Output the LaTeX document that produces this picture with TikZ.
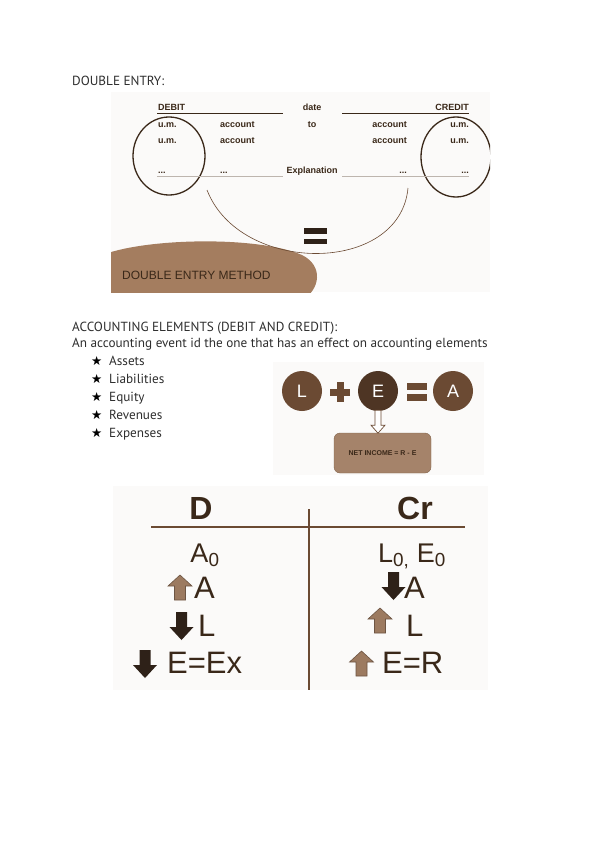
\documentclass[tikz,border=0pt]{standalone}
\usepackage{fontspec}
\setmainfont{PT Sans}
\newfontfamily\arialfont{Liberation Sans}
\newfontfamily\symfont{DejaVu Sans}
\usetikzlibrary{calc, positioning}

\definecolor{bodygray}{HTML}{2E2E2E}
\definecolor{imgbg}{HTML}{FBFAF9}
\definecolor{darkbrown}{HTML}{3A2819}
\definecolor{midbrown}{HTML}{6B4A33}
\definecolor{deepbrown}{HTML}{4E3524}
\definecolor{tanbrown}{HTML}{A47D5F}
\definecolor{boxbrown}{HTML}{A5836A}
\definecolor{arrtan}{HTML}{9C7A60}
\definecolor{arrdark}{HTML}{2E2118}
\definecolor{rulegray}{HTML}{BDB5AE}

\tikzset{
  uparr/.pic={\filldraw[fill=arrtan, draw=arrtan!70!black, line width=.6pt]
    (0,0) -- (12,11) -- (5.5,11) -- (5.5,25) -- (-5.5,25) -- (-5.5,11) -- (-12,11) -- cycle;},
  downarr/.pic={\fill[arrdark]
    (-5.5,0) -- (5.5,0) -- (5.5,15) -- (12,15) -- (0,28) -- (-12,15) -- (-5.5,15) -- cycle;}
}

\begin{document}
\begin{tikzpicture}[x=1pt, y=-1pt,
  txt/.style={inner sep=0, anchor=base west, text=bodygray, font=\fontsize{13.2}{15}\selectfont},
  sm/.style={inner sep=0, anchor=base, text=darkbrown, font=\arialfont\bfseries\fontsize{9}{10}\selectfont},
  ball/.style={circle, fill=midbrown, minimum size=40pt, inner sep=0, text=white, font=\arialfont\fontsize{18}{18}\selectfont},
  big/.style={inner sep=0, anchor=base west, text=darkbrown, font=\arialfont\fontsize{31}{31}\selectfont},
  mid/.style={inner sep=0, anchor=base, text=darkbrown, font=\arialfont\fontsize{27}{27}\selectfont},
  head/.style={inner sep=0, anchor=base, text=darkbrown, font=\arialfont\bfseries\fontsize{32}{32}\selectfont}]
\fill[white] (0,0) rectangle (600,848);
\useasboundingbox (0,0) rectangle (600,848);

% double entry
\node[txt] (t1) at (72,86) {DOUBLE ENTRY:};
\fill[imgbg] (111,92) rectangle (490,292);
\begin{scope}
\clip (111,92) rectangle (490,292);
\fill[tanbrown] (105,254) .. controls (150,238) and (258,236) .. (302,255)
  .. controls (324,266) and (320,290) .. (302,300) -- (105,300) -- cycle;
\draw[darkbrown, line width=1.3pt] (169,156) ellipse [x radius=36, y radius=39];
\draw[darkbrown, line width=1.3pt] (456,157) ellipse [x radius=35, y radius=40];
\end{scope}
\draw[darkbrown, line width=.8pt] (157,113) -- (283,113);
\draw[darkbrown, line width=.8pt] (342,113) -- (469,113);
\draw[rulegray, line width=.6pt] (157,176) -- (283,176);
\draw[rulegray, line width=.6pt] (342,176) -- (469,176);
\node[sm, anchor=base west] (deb) at (158,111) {DEBIT};
\node[sm] (date) at (312,111) {date};
\node[sm, anchor=base east] (cred) at (469,111) {CREDIT};
\node[sm, anchor=base west] (um1) at (158,128) {u.m.};
\node[sm, anchor=base west] (ac1) at (220,128) {account};
\node[sm] (to) at (312,128) {to};
\node[sm, anchor=base east] (ac2) at (407,128) {account};
\node[sm, anchor=base east] (um2) at (469,128) {u.m.};
\node[sm, anchor=base west] (um3) at (158,143) {u.m.};
\node[sm, anchor=base west] (ac3) at (220,143) {account};
\node[sm, anchor=base east] (ac4) at (407,143) {account};
\node[sm, anchor=base east] (um4) at (469,143) {u.m.};
\node[sm, anchor=base west] (d1) at (158,173) {...};
\node[sm, anchor=base west] (d2) at (220,173) {...};
\node[sm] (expl) at (312,173) {Explanation};
\node[sm, anchor=base east] (d3) at (407,173) {...};
\node[sm, anchor=base east] (d4) at (469,173) {...};
\draw[midbrown, line width=.6pt] (207,190) .. controls (240,275) and (400,275) .. (408,188);
\fill[arrdark] (304,228) rectangle (327,233.5);
\fill[arrdark] (304,238.5) rectangle (327,244);
\node[inner sep=0, anchor=base west, text=darkbrown, font=\arialfont\fontsize{12}{12}\selectfont] (dem) at (122,279) {DOUBLE ENTRY METHOD};

% accounting elements
\node[txt] (t2) at (72,331) {ACCOUNTING ELEMENTS (DEBIT AND CREDIT):};
\node[txt] (t3) at (72,347) {An accounting event id the one that has an effect on accounting elements};
\foreach \el [count=\i] in {Assets, Liabilities, Equity, Revenues, Expenses}{
  \node[txt, font=\symfont\fontsize{12.5}{12}\selectfont, text=black] (s\i) at (91,{365+18*(\i-1)}) {★};
  \node[txt] (e\i) at (109,{365+18*(\i-1)}) {\el};
}
\fill[imgbg] (273,362) rectangle (484,475);
\node[ball] (L) at (302,391) {L};
\node[ball, fill=deepbrown] (E) at (378,391) {E};
\node[ball] (A) at (453,391) {A};
\fill[midbrown] (330,388.5) rectangle (350,395.5);
\fill[midbrown] (336.5,382) rectangle (343.5,402);
\fill[midbrown] (407,383) rectangle (427,390);
\fill[midbrown] (407,394) rectangle (427,401);
\node[draw=tanbrown!80!black, fill=boxbrown, rounded corners=6pt, minimum width=97pt, minimum height=40pt,
  inner sep=0, text=darkbrown, font=\arialfont\bfseries\fontsize{7}{7}\selectfont] (ni) at (382.5,453) {NET INCOME = R - E};
\filldraw[fill=white, draw=midbrown, line width=.7pt] ($(E.south)+(-3,-1)$) -- ($(E.south)+(3,-1)$) -- ($(E.south)+(3,14)$)
  -- ($(E.south)+(7,14)$) -- ($(E.south)+(0,22)$) -- ($(E.south)+(-7,14)$) -- ($(E.south)+(-3,14)$) -- cycle;

% T account
\fill[imgbg] (113,486) rectangle (488,690);
\draw[midbrown, line width=2pt] (151,527) -- (465,527);
\draw[midbrown, line width=1.6pt] (309,509) -- (309,690);
\node[head] (D) at (201,519) {D};
\node[head] (Cr) at (415,519) {Cr};
\node[mid] (A0) at (205,562) {A\textsubscript{0}};
\node[mid] (LE0) at (412,562) {L\textsubscript{0,} E\textsubscript{0}};
\pic at (180,575) {uparr};
\node[big] (r2l) at (194,598) {A};
\pic at (393.5,572) {downarr};
\node[big] (r2r) at (404,598) {A};
\pic at (181.5,612) {downarr};
\node[big] (r3l) at (198,636) {L};
\pic at (380,608) {uparr};
\node[big] (r3r) at (406,636) {L};
\pic at (145,650) {downarr};
\node[big] (r4l) at (167,673) {E=Ex};
\pic at (361.5,651) {uparr};
\node[big] (r4r) at (382,673) {E=R};
\end{tikzpicture}
\end{document}
